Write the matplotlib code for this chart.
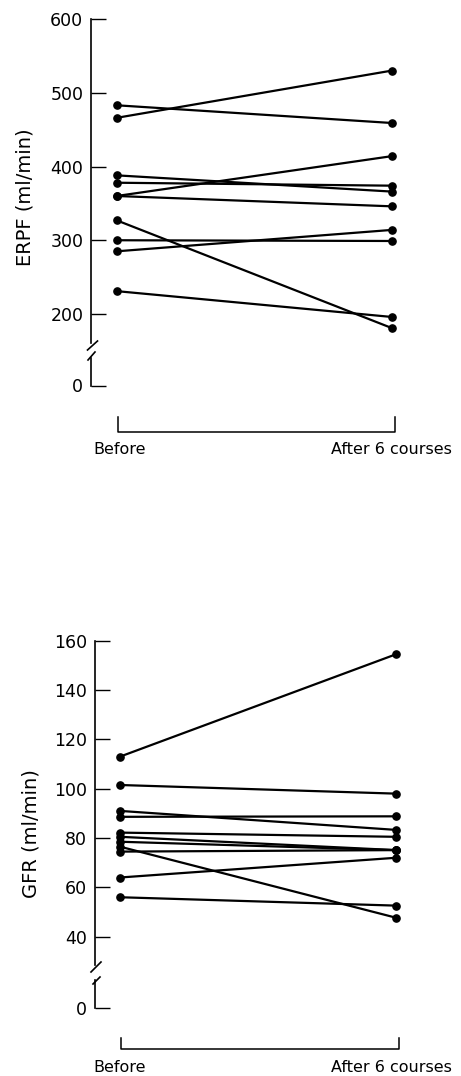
import matplotlib
matplotlib.use("Agg")
import matplotlib.pyplot as plt
from matplotlib.lines import Line2D

plt.rcParams['font.family'] = ['DejaVu Sans']

# ERPF, ml/min (one entry per patient)
erpf_before = [483, 466, 388, 378, 360, 360, 327, 300, 285, 231]
erpf_after = [459, 530, 366, 374, 414, 346, 181, 299, 314, 196]
erpf_ticks = [200, 300, 400, 500, 600]

# GFR, ml/min
gfr_before = [113, 101.5, 91, 88.6, 82.2, 80.5, 78.5, 76.5, 74.5, 64, 56]
gfr_after = [154.5, 98, 83.3, 88.8, 80.5, 75.1, 75.1, 47.7, 75.1, 72, 52.6]
gfr_ticks = [40, 60, 80, 100, 120, 140, 160]

x_labels = ["Before", "After 6 courses"]

W, H = 461, 1076
fig = plt.figure(figsize=(W / 100, H / 100), dpi=100)


def fx(px):
    return px / W


def fy(py):
    return 1 - py / H


def fig_line(xs, ys, lw=1.1):
    fig.add_artist(Line2D([fx(v) for v in xs], [fy(v) for v in ys],
                          transform=fig.transFigure, color='k', lw=lw))


def draw_panel(before, after, ticks, ylabel, p):
    # p holds the pixel layout of one panel
    sx, xb, xa = p['spine_x'], p['x_before'], p['x_after']
    right = 440
    scale = xa - xb
    top_px, bot_px = p['top_px'], p['main_bottom']
    ax = fig.add_axes([fx(sx), fy(bot_px), fx(right) - fx(sx),
                       (bot_px - top_px) / H])
    vtop = ticks[-1]
    vbot = vtop - (bot_px - top_px) / p['ppu']
    ax.set_ylim(vbot, vtop)
    ax.set_xlim((sx - xb) / scale, (right - xb) / scale)
    for b, a in zip(before, after):
        ax.plot([0, 1], [b, a], color='k', lw=1.6, marker='o', ms=5.2,
                clip_on=False, solid_capstyle='butt')
    for s in ['top', 'right', 'bottom']:
        ax.spines[s].set_visible(False)
    ax.spines['left'].set_linewidth(1.2)
    ax.spines['left'].set_bounds(vbot, vtop)
    ax.set_xticks([])
    ax.set_yticks(ticks)
    ax.tick_params(axis='y', direction='in', length=11, width=1.0,
                   pad=5.5, labelsize=12.5)

    # small axis that only carries the zero
    z0, z1 = p['zero_top'], p['zero_px']
    az = fig.add_axes([fx(sx), fy(z1), fx(right) - fx(sx), (z1 - z0) / H])
    az.set_ylim(0, 1)
    az.set_xlim(ax.get_xlim())
    for s in ['top', 'right', 'bottom']:
        az.spines[s].set_visible(False)
    az.spines['left'].set_linewidth(1.2)
    az.set_xticks([])
    az.set_yticks([0])
    az.tick_params(axis='y', direction='in', length=11, width=1.0,
                   pad=5.5, labelsize=12.5)
    az.patch.set_visible(False)

    # axis break marks
    for (x0, y0, x1, y1) in p['breaks']:
        fig_line([x0, x1], [y0, y1], lw=1.2)

    # bracket under the two groups
    by, bt = p['bracket_y'], p['bracket_tick']
    bx0, bx1 = p['bracket_x']
    fig_line([bx0, bx0, bx1, bx1], [by - bt, by, by, by - bt], lw=1.1)
    fig.text(fx(p['label_x'][0]), fy(p['label_y']), x_labels[0],
             ha='center', va='center', fontsize=11.5)
    fig.text(fx(p['label_x'][1]), fy(p['label_y']), x_labels[1],
             ha='center', va='center', fontsize=11.5)

    fig.text(fx(p['ylabel_xy'][0]), fy(p['ylabel_xy'][1]), ylabel,
             rotation=90, ha='center', va='center', fontsize=14)
    return ax


top = dict(spine_x=91, x_before=116.7, x_after=391.7, top_px=19,
           ppu=0.7375, main_bottom=343, zero_top=358, zero_px=385.5,
           breaks=[(87.5, 350, 97.5, 341), (88, 360, 95, 352)],
           bracket_y=431.7, bracket_tick=15, bracket_x=(118, 395),
           label_x=(120, 391), label_y=449, ylabel_xy=(25, 197))
bottom = dict(spine_x=94.5, x_before=120, x_after=396, top_px=640.7,
              ppu=2.4667, main_bottom=965, zero_top=980, zero_px=1008,
              breaks=[(91, 972, 101, 962), (93, 984, 100, 977)],
              bracket_y=1049, bracket_tick=11, bracket_x=(121, 399),
              label_x=(120, 391), label_y=1067, ylabel_xy=(31, 834))

draw_panel(erpf_before, erpf_after, erpf_ticks, "ERPF (ml/min)", top)
draw_panel(gfr_before, gfr_after, gfr_ticks, "GFR (ml/min)", bottom)

fig.savefig("out.png", dpi=100)
